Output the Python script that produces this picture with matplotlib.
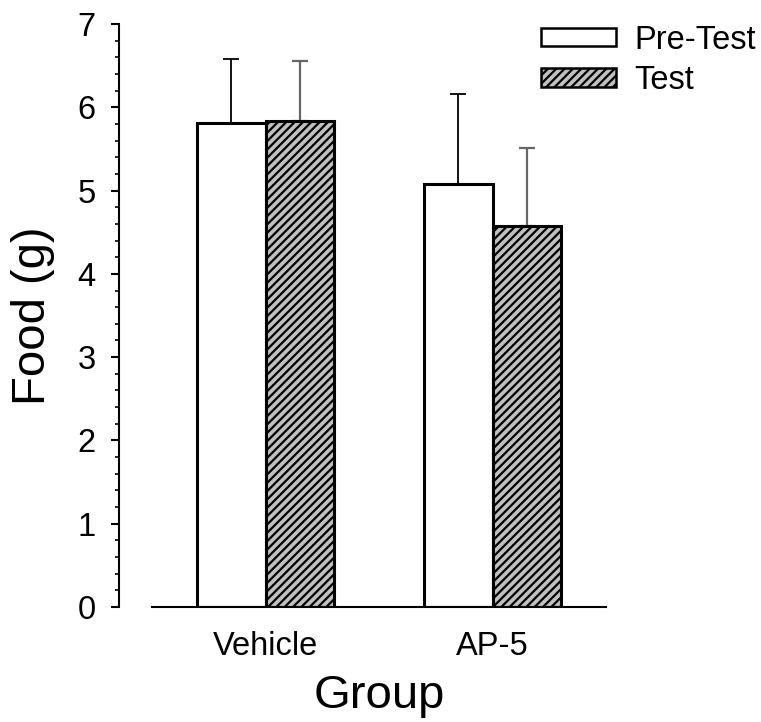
import numpy as np
import matplotlib
matplotlib.use('Agg')
import matplotlib.pyplot as plt
from matplotlib.ticker import MultipleLocator

plt.rcParams['font.family'] = ['Liberation Sans', 'DejaVu Sans']
plt.rcParams['hatch.linewidth'] = 1.6

groups = ['Vehicle', 'AP-5']
pre_test = [5.81, 5.08]
pre_err = [0.77, 1.08]
test = [5.83, 4.58]
test_err = [0.73, 0.93]

x = np.arange(len(groups))
w = 0.3

fig = plt.figure(figsize=(7.61, 7.22), dpi=100)
ax = fig.add_axes([152/761, 1 - 607/722, 454/761, 583/722])

# upper error bars only, drawn under the bars so the lower cap hides in the bar edge
ax.errorbar(x - w/2, pre_test, yerr=[np.zeros(2), pre_err], fmt='none',
            ecolor='black', elinewidth=1.3, capsize=6, capthick=1.3, zorder=1)
ax.errorbar(x + w/2, test, yerr=[np.zeros(2), test_err], fmt='none',
            ecolor='#666666', elinewidth=1.6, capsize=6, capthick=1.6, zorder=1)

ax.bar(x - w/2, pre_test, w, color='white', edgecolor='black', linewidth=2.2,
       label='Pre-Test', zorder=2)
ax.bar(x + w/2, test, w, color='#c0c0c0', edgecolor='black', linewidth=2.2,
       hatch='////', label='Test', zorder=2)

ax.set_xlim(-0.5, 1.5)
ax.set_ylim(0, 7)
ax.set_xticks(x)
ax.set_xticklabels(groups)
ax.yaxis.set_major_locator(MultipleLocator(1))
ax.yaxis.set_minor_locator(MultipleLocator(0.2))

ax.spines['top'].set_visible(False)
ax.spines['right'].set_visible(False)
ax.spines['left'].set_position(('outward', 23.5))
ax.spines['left'].set_linewidth(1.5)
ax.spines['bottom'].set_linewidth(1.5)

ax.tick_params(axis='x', length=0, pad=17, labelsize=23.5)
ax.tick_params(axis='y', which='major', length=6, width=1.5, pad=11, labelsize=23.5)
ax.tick_params(axis='y', which='minor', length=3.2, width=1.2)

ax.set_xlabel('Group', fontsize=34, labelpad=9)
ax.set_ylabel('Food (g)', fontsize=34, labelpad=16)

leg = ax.legend(loc='upper left', bbox_to_anchor=(541/761, 1 - 25/722),
                bbox_transform=fig.transFigure, frameon=False, fontsize=23.5,
                handlelength=2.3, handleheight=0.48, handletextpad=0.55,
                labelspacing=0.28, borderpad=0, borderaxespad=0)
for h in leg.legend_handles:
    h.set_linewidth(1.8)

fig.savefig('out.png', dpi=100)
